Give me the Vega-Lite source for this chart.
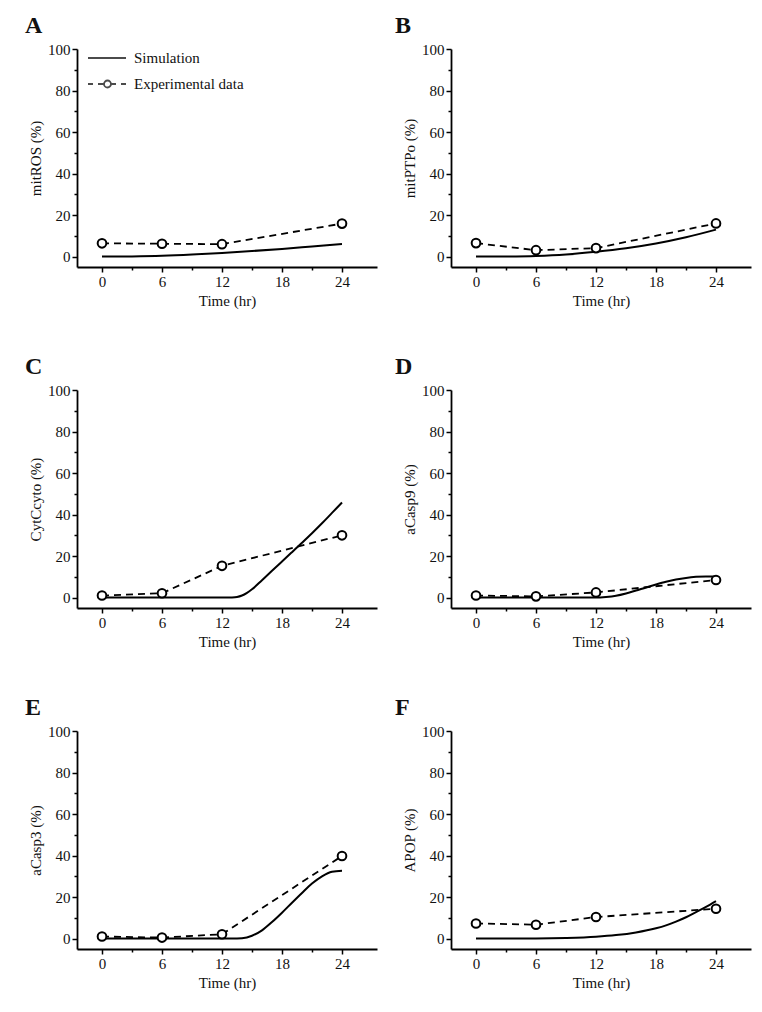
{
  "$schema": "https://vega.github.io/schema/vega-lite/v6.json",
  "background": "white",
  "padding": {"left": 25, "top": 14, "right": 5, "bottom": 5},
  "data": {"values": [
    {"panel":"A","series":"Simulation","t":0,"v":0},
    {"panel":"A","series":"Simulation","t":3,"v":0.1},
    {"panel":"A","series":"Simulation","t":6,"v":0.4},
    {"panel":"A","series":"Simulation","t":9,"v":1.0},
    {"panel":"A","series":"Simulation","t":12,"v":1.8},
    {"panel":"A","series":"Simulation","t":15,"v":2.7},
    {"panel":"A","series":"Simulation","t":18,"v":3.7},
    {"panel":"A","series":"Simulation","t":21,"v":4.9},
    {"panel":"A","series":"Simulation","t":24,"v":6.1},
    {"panel":"A","series":"Experimental data","t":0,"v":6.4},
    {"panel":"A","series":"Experimental data","t":6,"v":6.2},
    {"panel":"A","series":"Experimental data","t":12,"v":6.0},
    {"panel":"A","series":"Experimental data","t":24,"v":15.9},

    {"panel":"B","series":"Simulation","t":0,"v":0},
    {"panel":"B","series":"Simulation","t":3,"v":0.05},
    {"panel":"B","series":"Simulation","t":6,"v":0.3},
    {"panel":"B","series":"Simulation","t":9,"v":1.0},
    {"panel":"B","series":"Simulation","t":12,"v":2.3},
    {"panel":"B","series":"Simulation","t":15,"v":4.0},
    {"panel":"B","series":"Simulation","t":18,"v":6.3},
    {"panel":"B","series":"Simulation","t":21,"v":9.3},
    {"panel":"B","series":"Simulation","t":24,"v":13.0},
    {"panel":"B","series":"Experimental data","t":0,"v":6.5},
    {"panel":"B","series":"Experimental data","t":6,"v":3.1},
    {"panel":"B","series":"Experimental data","t":12,"v":4.1},
    {"panel":"B","series":"Experimental data","t":24,"v":16.0},

    {"panel":"C","series":"Simulation","t":0,"v":0},
    {"panel":"C","series":"Simulation","t":6,"v":0},
    {"panel":"C","series":"Simulation","t":12,"v":0},
    {"panel":"C","series":"Simulation","t":13,"v":0.1},
    {"panel":"C","series":"Simulation","t":13.5,"v":0.3},
    {"panel":"C","series":"Simulation","t":14,"v":1.0},
    {"panel":"C","series":"Simulation","t":14.5,"v":2.3},
    {"panel":"C","series":"Simulation","t":15,"v":4.0},
    {"panel":"C","series":"Simulation","t":16,"v":8.4},
    {"panel":"C","series":"Simulation","t":17,"v":12.9},
    {"panel":"C","series":"Simulation","t":18,"v":17.4},
    {"panel":"C","series":"Simulation","t":19,"v":21.9},
    {"panel":"C","series":"Simulation","t":20,"v":26.4},
    {"panel":"C","series":"Simulation","t":21,"v":31.0},
    {"panel":"C","series":"Simulation","t":22,"v":35.8},
    {"panel":"C","series":"Simulation","t":23,"v":40.8},
    {"panel":"C","series":"Simulation","t":24,"v":45.8},
    {"panel":"C","series":"Experimental data","t":0,"v":1.0},
    {"panel":"C","series":"Experimental data","t":6,"v":2.1},
    {"panel":"C","series":"Experimental data","t":12,"v":15.3},
    {"panel":"C","series":"Experimental data","t":24,"v":30.0},

    {"panel":"D","series":"Simulation","t":0,"v":0},
    {"panel":"D","series":"Simulation","t":6,"v":0},
    {"panel":"D","series":"Simulation","t":12,"v":0},
    {"panel":"D","series":"Simulation","t":13,"v":0.3},
    {"panel":"D","series":"Simulation","t":14,"v":0.9},
    {"panel":"D","series":"Simulation","t":15,"v":2.0},
    {"panel":"D","series":"Simulation","t":16,"v":3.4},
    {"panel":"D","series":"Simulation","t":17,"v":4.9},
    {"panel":"D","series":"Simulation","t":18,"v":6.3},
    {"panel":"D","series":"Simulation","t":19,"v":7.6},
    {"panel":"D","series":"Simulation","t":20,"v":8.7},
    {"panel":"D","series":"Simulation","t":21,"v":9.5},
    {"panel":"D","series":"Simulation","t":22,"v":10.0},
    {"panel":"D","series":"Simulation","t":23,"v":10.2},
    {"panel":"D","series":"Simulation","t":24,"v":10.2},
    {"panel":"D","series":"Experimental data","t":0,"v":1.0},
    {"panel":"D","series":"Experimental data","t":6,"v":0.6},
    {"panel":"D","series":"Experimental data","t":12,"v":2.5},
    {"panel":"D","series":"Experimental data","t":24,"v":8.5},

    {"panel":"E","series":"Simulation","t":0,"v":0},
    {"panel":"E","series":"Simulation","t":6,"v":0},
    {"panel":"E","series":"Simulation","t":12,"v":0},
    {"panel":"E","series":"Simulation","t":13,"v":0},
    {"panel":"E","series":"Simulation","t":14,"v":0.2},
    {"panel":"E","series":"Simulation","t":15,"v":1.4},
    {"panel":"E","series":"Simulation","t":16,"v":4.0},
    {"panel":"E","series":"Simulation","t":17,"v":8.0},
    {"panel":"E","series":"Simulation","t":18,"v":12.5},
    {"panel":"E","series":"Simulation","t":19,"v":17.3},
    {"panel":"E","series":"Simulation","t":20,"v":22.0},
    {"panel":"E","series":"Simulation","t":21,"v":26.5},
    {"panel":"E","series":"Simulation","t":22,"v":30.0},
    {"panel":"E","series":"Simulation","t":23,"v":32.2},
    {"panel":"E","series":"Simulation","t":24,"v":32.7},
    {"panel":"E","series":"Experimental data","t":0,"v":1.0},
    {"panel":"E","series":"Experimental data","t":6,"v":0.5},
    {"panel":"E","series":"Experimental data","t":12,"v":2.1},
    {"panel":"E","series":"Experimental data","t":24,"v":39.8},

    {"panel":"F","series":"Simulation","t":0,"v":0},
    {"panel":"F","series":"Simulation","t":3,"v":0},
    {"panel":"F","series":"Simulation","t":6,"v":0.05},
    {"panel":"F","series":"Simulation","t":9,"v":0.3},
    {"panel":"F","series":"Simulation","t":12,"v":0.9},
    {"panel":"F","series":"Simulation","t":14,"v":1.7},
    {"panel":"F","series":"Simulation","t":16,"v":3.0},
    {"panel":"F","series":"Simulation","t":18,"v":5.0},
    {"panel":"F","series":"Simulation","t":19,"v":6.4},
    {"panel":"F","series":"Simulation","t":20,"v":8.2},
    {"panel":"F","series":"Simulation","t":21,"v":10.3},
    {"panel":"F","series":"Simulation","t":22,"v":12.8},
    {"panel":"F","series":"Simulation","t":23,"v":15.3},
    {"panel":"F","series":"Simulation","t":24,"v":18.1},
    {"panel":"F","series":"Experimental data","t":0,"v":7.3},
    {"panel":"F","series":"Experimental data","t":6,"v":6.7},
    {"panel":"F","series":"Experimental data","t":12,"v":10.4},
    {"panel":"F","series":"Experimental data","t":24,"v":14.4}
  ]},
  "columns": 2,
  "spacing": {"row": 123, "column": 74},
  "bounds": "flush",
  "resolve": {"scale": {"shape": "independent"}, "legend": {"shape": "independent"}},
  "concat": [
    {
      "title": {"text": "A", "dx": -52},
      "width": 300, "height": 218,
      "transform": [{"filter": "datum.panel === 'A'"}],
      "encoding": {
        "x": {"field": "t", "type": "quantitative", "scale": {"domain": [-2.5, 27.5], "nice": false, "zero": false},
          "axis": {"title": "Time (hr)", "values": [0,3,6,9,12,15,18,21,24], "labelExpr": "datum.value % 6 === 0 ? datum.label : ''", "tickSize": {"condition": {"test": "datum.value % 6 === 0", "value": 5}, "value": 3}}},
        "y": {"field": "v", "type": "quantitative", "scale": {"domain": [-5, 100], "nice": false, "zero": false},
          "axis": {"title": "mitROS (%)", "values": [0,10,20,30,40,50,60,70,80,90,100], "labelExpr": "datum.value % 20 === 0 ? datum.label : ''", "tickSize": {"condition": {"test": "datum.value % 20 === 0", "value": 5}, "value": 3}}}
      },
      "layer": [
        {"transform": [{"filter": "datum.series === 'Simulation'"}], "mark": {"type": "line", "interpolate": "monotone", "color": "black", "strokeWidth": 2}},
        {"transform": [{"filter": "datum.series === 'Experimental data'"}], "mark": {"type": "line", "color": "black", "strokeWidth": 1.8, "strokeDash": [7, 5]}},
        {"transform": [{"filter": "datum.series === 'Experimental data'"}], "mark": {"type": "point", "shape": "circle", "filled": true, "fill": "white", "stroke": "black", "strokeWidth": 2, "size": 75, "opacity": 1}},
        {"transform": [{"filter": "datum.series === 'none'"}],
          "mark": {"type": "point", "color": "black", "strokeWidth": 1.8},
          "encoding": {"shape": {"field": "series", "type": "nominal",
            "scale": {"domain": ["Simulation", "Experimental data"], "range": ["M0.2,0H4.0", "M0.2,0H0.7M1.2,0H1.8M2.5,0H3.0M3.5,0H4.0M2.5,0A0.35,0.35 0 1 1 1.8,0A0.35,0.35 0 1 1 2.5,0"]},
            "legend": {"title": null, "orient": "top-left", "offset": -2, "padding": 0, "symbolSize": 400, "labelOffset": 37, "rowPadding": 7, "labelFontSize": 15, "labelColor": "#111", "symbolStrokeWidth": 1.8,
              "encode": {"symbols": {"update": {"strokeWidth": {"value": 1.8}}}}}}}}
      ]
    },
    {
      "title": {"text": "B", "dx": -56},
      "width": 300, "height": 218,
      "transform": [{"filter": "datum.panel === 'B'"}],
      "encoding": {
        "x": {"field": "t", "type": "quantitative", "scale": {"domain": [-2.5, 27.5], "nice": false, "zero": false},
          "axis": {"title": "Time (hr)", "values": [0,3,6,9,12,15,18,21,24], "labelExpr": "datum.value % 6 === 0 ? datum.label : ''", "tickSize": {"condition": {"test": "datum.value % 6 === 0", "value": 5}, "value": 3}}},
        "y": {"field": "v", "type": "quantitative", "scale": {"domain": [-5, 100], "nice": false, "zero": false},
          "axis": {"title": "mitPTPo (%)", "values": [0,10,20,30,40,50,60,70,80,90,100], "labelExpr": "datum.value % 20 === 0 ? datum.label : ''", "tickSize": {"condition": {"test": "datum.value % 20 === 0", "value": 5}, "value": 3}}}
      },
      "layer": [
        {"transform": [{"filter": "datum.series === 'Simulation'"}], "mark": {"type": "line", "interpolate": "monotone", "color": "black", "strokeWidth": 2}},
        {"transform": [{"filter": "datum.series === 'Experimental data'"}], "mark": {"type": "line", "color": "black", "strokeWidth": 1.8, "strokeDash": [7, 5]}},
        {"transform": [{"filter": "datum.series === 'Experimental data'"}], "mark": {"type": "point", "shape": "circle", "filled": true, "fill": "white", "stroke": "black", "strokeWidth": 2, "size": 75, "opacity": 1}}
      ]
    },
    {
      "title": {"text": "C", "dx": -52},
      "width": 300, "height": 218,
      "transform": [{"filter": "datum.panel === 'C'"}],
      "encoding": {
        "x": {"field": "t", "type": "quantitative", "scale": {"domain": [-2.5, 27.5], "nice": false, "zero": false},
          "axis": {"title": "Time (hr)", "values": [0,3,6,9,12,15,18,21,24], "labelExpr": "datum.value % 6 === 0 ? datum.label : ''", "tickSize": {"condition": {"test": "datum.value % 6 === 0", "value": 5}, "value": 3}}},
        "y": {"field": "v", "type": "quantitative", "scale": {"domain": [-5, 100], "nice": false, "zero": false},
          "axis": {"title": "CytCcyto (%)", "values": [0,10,20,30,40,50,60,70,80,90,100], "labelExpr": "datum.value % 20 === 0 ? datum.label : ''", "tickSize": {"condition": {"test": "datum.value % 20 === 0", "value": 5}, "value": 3}}}
      },
      "layer": [
        {"transform": [{"filter": "datum.series === 'Simulation'"}], "mark": {"type": "line", "interpolate": "monotone", "color": "black", "strokeWidth": 2}},
        {"transform": [{"filter": "datum.series === 'Experimental data'"}], "mark": {"type": "line", "color": "black", "strokeWidth": 1.8, "strokeDash": [7, 5]}},
        {"transform": [{"filter": "datum.series === 'Experimental data'"}], "mark": {"type": "point", "shape": "circle", "filled": true, "fill": "white", "stroke": "black", "strokeWidth": 2, "size": 75, "opacity": 1}}
      ]
    },
    {
      "title": {"text": "D", "dx": -56},
      "width": 300, "height": 218,
      "transform": [{"filter": "datum.panel === 'D'"}],
      "encoding": {
        "x": {"field": "t", "type": "quantitative", "scale": {"domain": [-2.5, 27.5], "nice": false, "zero": false},
          "axis": {"title": "Time (hr)", "values": [0,3,6,9,12,15,18,21,24], "labelExpr": "datum.value % 6 === 0 ? datum.label : ''", "tickSize": {"condition": {"test": "datum.value % 6 === 0", "value": 5}, "value": 3}}},
        "y": {"field": "v", "type": "quantitative", "scale": {"domain": [-5, 100], "nice": false, "zero": false},
          "axis": {"title": "aCasp9 (%)", "values": [0,10,20,30,40,50,60,70,80,90,100], "labelExpr": "datum.value % 20 === 0 ? datum.label : ''", "tickSize": {"condition": {"test": "datum.value % 20 === 0", "value": 5}, "value": 3}}}
      },
      "layer": [
        {"transform": [{"filter": "datum.series === 'Simulation'"}], "mark": {"type": "line", "interpolate": "monotone", "color": "black", "strokeWidth": 2}},
        {"transform": [{"filter": "datum.series === 'Experimental data'"}], "mark": {"type": "line", "color": "black", "strokeWidth": 1.8, "strokeDash": [7, 5]}},
        {"transform": [{"filter": "datum.series === 'Experimental data'"}], "mark": {"type": "point", "shape": "circle", "filled": true, "fill": "white", "stroke": "black", "strokeWidth": 2, "size": 75, "opacity": 1}}
      ]
    },
    {
      "title": {"text": "E", "dx": -52},
      "width": 300, "height": 218,
      "transform": [{"filter": "datum.panel === 'E'"}],
      "encoding": {
        "x": {"field": "t", "type": "quantitative", "scale": {"domain": [-2.5, 27.5], "nice": false, "zero": false},
          "axis": {"title": "Time (hr)", "values": [0,3,6,9,12,15,18,21,24], "labelExpr": "datum.value % 6 === 0 ? datum.label : ''", "tickSize": {"condition": {"test": "datum.value % 6 === 0", "value": 5}, "value": 3}}},
        "y": {"field": "v", "type": "quantitative", "scale": {"domain": [-5, 100], "nice": false, "zero": false},
          "axis": {"title": "aCasp3 (%)", "values": [0,10,20,30,40,50,60,70,80,90,100], "labelExpr": "datum.value % 20 === 0 ? datum.label : ''", "tickSize": {"condition": {"test": "datum.value % 20 === 0", "value": 5}, "value": 3}}}
      },
      "layer": [
        {"transform": [{"filter": "datum.series === 'Simulation'"}], "mark": {"type": "line", "interpolate": "monotone", "color": "black", "strokeWidth": 2}},
        {"transform": [{"filter": "datum.series === 'Experimental data'"}], "mark": {"type": "line", "color": "black", "strokeWidth": 1.8, "strokeDash": [7, 5]}},
        {"transform": [{"filter": "datum.series === 'Experimental data'"}], "mark": {"type": "point", "shape": "circle", "filled": true, "fill": "white", "stroke": "black", "strokeWidth": 2, "size": 75, "opacity": 1}}
      ]
    },
    {
      "title": {"text": "F", "dx": -56},
      "width": 300, "height": 218,
      "transform": [{"filter": "datum.panel === 'F'"}],
      "encoding": {
        "x": {"field": "t", "type": "quantitative", "scale": {"domain": [-2.5, 27.5], "nice": false, "zero": false},
          "axis": {"title": "Time (hr)", "values": [0,3,6,9,12,15,18,21,24], "labelExpr": "datum.value % 6 === 0 ? datum.label : ''", "tickSize": {"condition": {"test": "datum.value % 6 === 0", "value": 5}, "value": 3}}},
        "y": {"field": "v", "type": "quantitative", "scale": {"domain": [-5, 100], "nice": false, "zero": false},
          "axis": {"title": "APOP (%)", "values": [0,10,20,30,40,50,60,70,80,90,100], "labelExpr": "datum.value % 20 === 0 ? datum.label : ''", "tickSize": {"condition": {"test": "datum.value % 20 === 0", "value": 5}, "value": 3}}}
      },
      "layer": [
        {"transform": [{"filter": "datum.series === 'Simulation'"}], "mark": {"type": "line", "interpolate": "monotone", "color": "black", "strokeWidth": 2}},
        {"transform": [{"filter": "datum.series === 'Experimental data'"}], "mark": {"type": "line", "color": "black", "strokeWidth": 1.8, "strokeDash": [7, 5]}},
        {"transform": [{"filter": "datum.series === 'Experimental data'"}], "mark": {"type": "point", "shape": "circle", "filled": true, "fill": "white", "stroke": "black", "strokeWidth": 2, "size": 75, "opacity": 1}}
      ]
    }
  ],
  "config": {
    "font": "Liberation Serif",
    "view": {"stroke": null},
    "title": {"anchor": "start", "frame": "group", "fontSize": 24, "fontWeight": "bold", "color": "#111", "offset": 4, "font": "Liberation Serif"},
    "axis": {"grid": false, "domainColor": "black", "domainWidth": 1.8, "tickColor": "black", "tickWidth": 1.5,
      "labelFont": "Liberation Serif", "titleFont": "Liberation Serif", "labelFontSize": 15, "titleFontSize": 15,
      "labelColor": "#111", "titleColor": "#111", "titleFontWeight": "normal", "labelPadding": 2, "titlePadding": 4, "labelFlush": false},
    "legend": {"labelFont": "Liberation Serif"}
  }
}
